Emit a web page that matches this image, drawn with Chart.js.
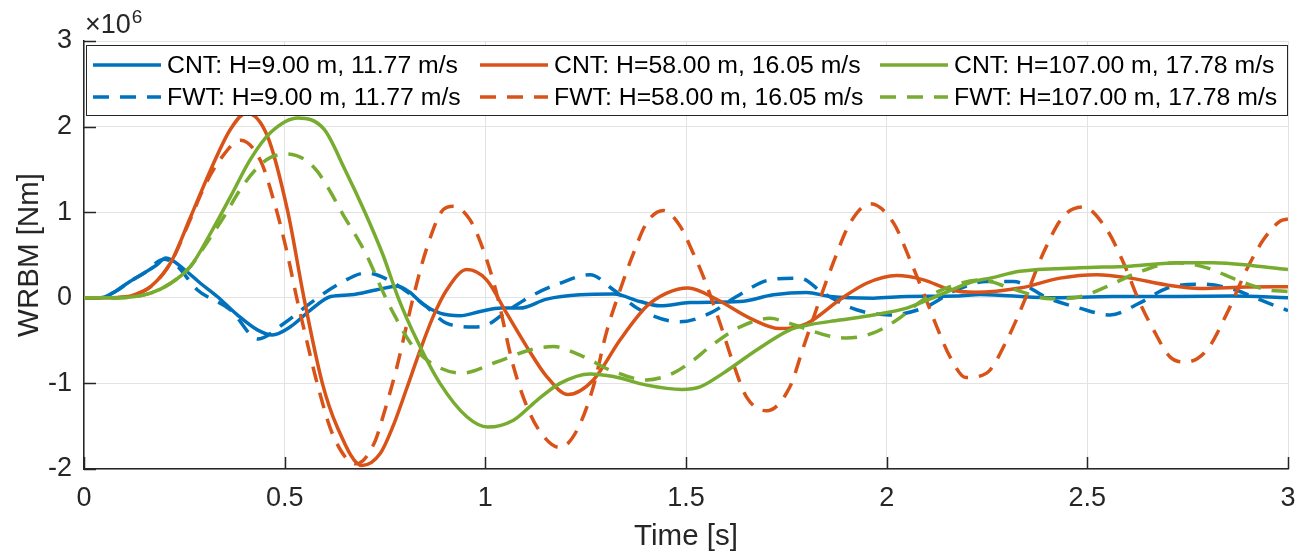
<!DOCTYPE html>
<html lang="en">
<head>
  <meta charset="UTF-8" />
  <title>WRBM - CNT vs FWT</title>
  <script src="https://cdn.jsdelivr.net/npm/chart.js@4.4.1/dist/chart.umd.min.js"></script>
  <style>
    html, body {
      margin: 0;
      padding: 0;
      background-color: #ffffff;
    }
    .chart-box {
      width: 1312px;
      height: 558px;
    }
  </style>
</head>
<body>

  <div class="chart-box">
    <canvas id="graficaWRBM" width="1312" height="558"></canvas>
  </div>

  <script>
    // values (time in s, WRBM in 1e6 Nm)
    const tCntH9 = [0, 0.04, 0.08, 0.108, 0.15, 0.18, 0.204, 0.25, 0.29, 0.332, 0.382, 0.432, 0.469, 0.515, 0.565, 0.615, 0.665, 0.73, 0.78, 0.81, 0.846, 0.887, 0.937, 0.987, 1.04, 1.086, 1.153, 1.236, 1.32, 1.385, 1.435, 1.51, 1.635, 1.718, 1.8, 1.86, 1.967, 2.05, 2.175, 2.233, 2.4, 2.565, 2.73, 2.86, 3.0];
    const vCntH9 = [0, 0, 0.08, 0.17, 0.29, 0.38, 0.465, 0.33, 0.17, 0.015, -0.2, -0.375, -0.434, -0.336, -0.14, 0.015, 0.035, 0.094, 0.135, 0.07, -0.08, -0.18, -0.21, -0.16, -0.12, -0.12, -0.015, 0.035, 0.043, -0.043, -0.094, -0.055, -0.043, 0.035, 0.062, 0.015, -0.004, 0.015, 0.02, 0.04, 0.0, 0.015, 0.015, 0.02, 0.0];

    const tFwtH9 = [0, 0.04, 0.08, 0.108, 0.15, 0.2, 0.232, 0.282, 0.365, 0.434, 0.498, 0.565, 0.631, 0.704, 0.758, 0.85, 0.904, 0.97, 1.003, 1.053, 1.12, 1.186, 1.261, 1.319, 1.385, 1.485, 1.56, 1.626, 1.709, 1.784, 1.842, 1.925, 2.008, 2.091, 2.175, 2.249, 2.316, 2.4, 2.48, 2.557, 2.631, 2.698, 2.781, 2.856, 2.939, 3.0];
    const vFwtH9 = [0, 0, 0.08, 0.17, 0.29, 0.45, 0.37, 0.094, -0.14, -0.48, -0.3, -0.06, 0.15, 0.29, 0.21, -0.09, -0.3, -0.34, -0.32, -0.16, 0.035, 0.17, 0.27, 0.094, -0.14, -0.28, -0.18, 0.015, 0.21, 0.23, 0.055, -0.14, -0.2, -0.12, 0.094, 0.19, 0.19, 0, -0.12, -0.2, -0.06, 0.11, 0.16, 0.11, -0.04, -0.15];

    const tCntH58 = [0, 0.06, 0.1, 0.125, 0.166, 0.216, 0.266, 0.316, 0.365, 0.405, 0.457, 0.508, 0.548, 0.594, 0.631, 0.693, 0.738, 0.77, 0.804, 0.837, 0.87, 0.904, 0.954, 1.003, 1.053, 1.103, 1.153, 1.206, 1.269, 1.336, 1.402, 1.452, 1.505, 1.577, 1.66, 1.734, 1.801, 1.884, 1.95, 2.025, 2.092, 2.158, 2.22, 2.332, 2.432, 2.524, 2.607, 2.698, 2.781, 2.897, 3.0];
    const vCntH58 = [0, 0, 0.01, 0.035, 0.13, 0.41, 0.95, 1.5, 1.97, 2.16, 1.89, 1.0, 0.0, -1.0, -1.51, -1.96, -1.82, -1.5, -1.06, -0.62, -0.22, 0.094, 0.33, 0.21, -0.18, -0.57, -0.92, -1.13, -0.96, -0.49, -0.1, 0.055, 0.115, -0.02, -0.24, -0.36, -0.3, -0.02, 0.17, 0.26, 0.21, 0.094, 0.065, 0.114, 0.23, 0.27, 0.23, 0.15, 0.11, 0.125, 0.13];

    const tFwtH58 = [0, 0.06, 0.1, 0.125, 0.166, 0.216, 0.266, 0.3, 0.34, 0.39, 0.44, 0.475, 0.505, 0.53, 0.555, 0.581, 0.62, 0.678, 0.723, 0.748, 0.779, 0.82, 0.854, 0.895, 0.92, 0.962, 0.995, 1.028, 1.07, 1.111, 1.153, 1.186, 1.228, 1.269, 1.302, 1.336, 1.369, 1.402, 1.444, 1.485, 1.518, 1.543, 1.585, 1.618, 1.651, 1.701, 1.759, 1.793, 1.842, 1.867, 1.909, 1.959, 2.017, 2.058, 2.092, 2.125, 2.158, 2.197, 2.249, 2.3, 2.341, 2.39, 2.44, 2.49, 2.548, 2.59, 2.631, 2.665, 2.706, 2.746, 2.798, 2.848, 2.897, 2.939, 2.98, 3.0];
    const vFwtH58 = [0, 0, 0.01, 0.035, 0.13, 0.41, 0.93, 1.3, 1.62, 1.84, 1.6, 1.1, 0.55, 0, -0.5, -1.0, -1.6, -1.94, -1.7, -1.34, -0.82, 0.0, 0.58, 1.03, 1.07, 0.91, 0.56, 0.055, -0.8, -1.35, -1.66, -1.75, -1.55, -1.04, -0.4, 0.094, 0.52, 0.875, 1.02, 0.84, 0.52, 0.25, -0.3, -0.77, -1.16, -1.32, -1.04, -0.57, 0.094, 0.41, 0.875, 1.1, 0.875, 0.445, 0.055, -0.34, -0.69, -0.93, -0.88, -0.49, -0.06, 0.52, 0.95, 1.06, 0.8, 0.41, -0.06, -0.375, -0.69, -0.75, -0.61, -0.18, 0.33, 0.68, 0.895, 0.92];

    const tCntH107 = [0, 0.083, 0.166, 0.216, 0.266, 0.316, 0.366, 0.415, 0.465, 0.533, 0.598, 0.65, 0.7, 0.745, 0.783, 0.83, 0.887, 0.954, 1.006, 1.07, 1.128, 1.186, 1.261, 1.319, 1.402, 1.49, 1.535, 1.593, 1.676, 1.759, 1.801, 1.884, 1.967, 2.05, 2.133, 2.216, 2.258, 2.332, 2.48, 2.607, 2.731, 2.814, 2.914, 3.0];
    const vCntH107 = [0, 0, 0.055, 0.17, 0.37, 0.76, 1.19, 1.62, 1.93, 2.1, 1.97, 1.5, 1.0, 0.5, 0.0, -0.5, -1.0, -1.39, -1.51, -1.43, -1.2, -1.0, -0.89, -0.92, -1.02, -1.07, -1.04, -0.88, -0.61, -0.375, -0.32, -0.26, -0.2, -0.12, 0.035, 0.19, 0.23, 0.31, 0.35, 0.37, 0.41, 0.41, 0.375, 0.33];

    const tFwtH107 = [0, 0.083, 0.166, 0.216, 0.266, 0.3, 0.349, 0.39, 0.432, 0.465, 0.507, 0.548, 0.581, 0.615, 0.648, 0.673, 0.706, 0.739, 0.771, 0.82, 0.879, 0.943, 1.028, 1.111, 1.17, 1.236, 1.319, 1.402, 1.468, 1.518, 1.56, 1.635, 1.709, 1.759, 1.859, 1.9, 1.967, 2.025, 2.092, 2.158, 2.233, 2.316, 2.41, 2.48, 2.548, 2.623, 2.72, 2.798, 2.872, 2.947, 3.0];
    const vFwtH107 = [0, 0, 0.055, 0.17, 0.37, 0.6, 0.95, 1.27, 1.52, 1.64, 1.68, 1.62, 1.48, 1.23, 0.95, 0.76, 0.48, 0.13, -0.18, -0.57, -0.8, -0.88, -0.75, -0.61, -0.57, -0.67, -0.86, -0.96, -0.88, -0.73, -0.57, -0.34, -0.24, -0.3, -0.45, -0.47, -0.41, -0.26, -0.02, 0.13, 0.21, 0.1, -0.01, 0.01, 0.13, 0.29, 0.41, 0.35, 0.21, 0.094, 0.074];

    const etiquetas = [
      'CNT: H=9.00 m, 11.77 m/s',
      'FWT: H=9.00 m, 11.77 m/s',
      'CNT: H=58.00 m, 16.05 m/s',
      'FWT: H=58.00 m, 16.05 m/s',
      'CNT: H=107.00 m, 17.78 m/s',
      'FWT: H=107.00 m, 17.78 m/s'
    ];
    const xTicks = [0, 0.5, 1, 1.5, 2, 2.5, 3];
    const yTicks = [-2, -1, 0, 1, 2, 3];

    const azul = '#0072BD';
    const naranja = '#D95319';
    const verde = '#77AC30';
    const gris = '#262626';
    const fuente = "'Liberation Sans', Arial, Helvetica, sans-serif";
    const trazo = [16, 11];

    function pares(t, v) {
      const n = Math.min(t.length, v.length);
      const out = [];
      for (let i = 0; i < n; i++) out.push({ x: t[i], y: v[i] });
      return out;
    }

    function serie(i, t, v, color, dashed) {
      return {
        label: etiquetas[i],
        data: pares(t, v),
        borderColor: color,
        backgroundColor: color,
        borderWidth: 3.5,
        borderDash: dashed ? trazo : [],
        pointRadius: 0,
        fill: false,
        cubicInterpolationMode: 'monotone',
        order: 10 - i   // later series on top, like the original plot
      };
    }

    // inward tick marks (no box on top / right)
    const marcasEjes = {
      id: 'marcasEjes',
      beforeDatasetsDraw(chart) {
        const { ctx, chartArea: a, scales: { x, y } } = chart;
        ctx.save();
        ctx.strokeStyle = gris;
        ctx.lineWidth = 1.5;
        ctx.beginPath();
        xTicks.forEach(v => {
          const px = Math.round(x.getPixelForValue(v)) + 0.5;
          ctx.moveTo(px, a.bottom);
          ctx.lineTo(px, a.bottom - 12);
        });
        yTicks.forEach(v => {
          const py = Math.round(y.getPixelForValue(v)) + 0.5;
          ctx.moveTo(a.left, py);
          ctx.lineTo(a.left + 12, py);
        });
        ctx.stroke();
        ctx.restore();
      }
    };

    // legend box inside the axes, 3 columns x 2 rows
    const leyenda = {
      id: 'leyenda',
      afterDatasetsDraw(chart) {
        const { ctx, chartArea: a } = chart;
        const bx = a.left + 2, by = a.top + 4, bw = a.right - a.left - 3, bh = 70;
        const colX = [bx + 7, bx + 394, bx + 794];
        const rowY = [by + 20, by + 52];
        ctx.save();
        ctx.fillStyle = '#ffffff';
        ctx.fillRect(bx, by, bw, bh);
        ctx.strokeStyle = gris;
        ctx.lineWidth = 1;
        ctx.strokeRect(bx + 0.5, by + 0.5, bw, bh);
        chart.data.datasets.forEach((ds, i) => {
          const cx = colX[Math.floor(i / 2)];
          const cy = rowY[i % 2];
          ctx.beginPath();
          ctx.setLineDash(ds.borderDash);
          ctx.strokeStyle = ds.borderColor;
          ctx.lineWidth = ds.borderWidth;
          ctx.moveTo(cx, cy);
          ctx.lineTo(cx + 68, cy);
          ctx.stroke();
          ctx.setLineDash([]);
          ctx.fillStyle = '#000000';
          ctx.font = '24.8px ' + fuente;
          ctx.textBaseline = 'middle';
          ctx.textAlign = 'left';
          ctx.fillText(ds.label, cx + 74, cy + 1);
        });
        ctx.restore();
      }
    };

    // x10^6 exponent above the y axis
    const exponente = {
      id: 'exponente',
      afterDraw(chart) {
        const { ctx, chartArea: a } = chart;
        ctx.save();
        ctx.fillStyle = gris;
        ctx.textBaseline = 'alphabetic';
        ctx.textAlign = 'left';
        ctx.font = '27px ' + fuente;
        ctx.fillText('\u00d710', a.left + 1, 33);
        const w = ctx.measureText('\u00d710').width;
        ctx.font = '19px ' + fuente;
        ctx.fillText('6', a.left + 1 + w + 1, 23);
        ctx.restore();
      }
    };

    const ctx = document.getElementById('graficaWRBM').getContext('2d');
    new Chart(ctx, {
      type: 'line',
      data: {
        datasets: [
          serie(0, tCntH9, vCntH9, azul, false),
          serie(1, tFwtH9, vFwtH9, azul, true),
          serie(2, tCntH58, vCntH58, naranja, false),
          serie(3, tFwtH58, vFwtH58, naranja, true),
          serie(4, tCntH107, vCntH107, verde, false),
          serie(5, tFwtH107, vFwtH107, verde, true)
        ]
      },
      options: {
        responsive: false,
        animation: false,
        layout: { padding: { top: 41, right: 24, bottom: 0, left: 0 } },
        plugins: {
          legend: { display: false },
          tooltip: { enabled: false }
        },
        scales: {
          x: {
            type: 'linear',
            min: 0,
            max: 3,
            afterBuildTicks: s => { s.ticks = xTicks.map(v => ({ value: v })); },
            afterFit: s => { s.height = 89; },
            grid: { color: '#e3e3e3', lineWidth: 1, drawTicks: false },
            border: { display: true, color: gris, width: 1.5 },
            ticks: {
              color: gris,
              padding: 13,
              maxRotation: 0,
              font: { family: fuente, size: 27 },
              callback: v => String(v)
            },
            title: {
              display: true,
              text: 'Time [s]',
              color: gris,
              font: { family: fuente, size: 29.5 },
              padding: { top: 0, bottom: 3 }
            }
          },
          y: {
            type: 'linear',
            min: -2,
            max: 3,
            afterBuildTicks: s => { s.ticks = yTicks.map(v => ({ value: v })); },
            afterFit: s => { s.width = 84; },
            grid: { color: '#e3e3e3', lineWidth: 1, drawTicks: false },
            border: { display: true, color: gris, width: 1.5 },
            ticks: {
              color: gris,
              padding: 12,
              font: { family: fuente, size: 27 },
              callback: v => String(v)
            },
            title: {
              display: true,
              text: 'WRBM [Nm]',
              color: gris,
              font: { family: fuente, size: 29.5 },
              padding: { top: 12, bottom: 0 }
            }
          }
        }
      },
      plugins: [marcasEjes, leyenda, exponente]
    });
  </script>
</body>
</html>
